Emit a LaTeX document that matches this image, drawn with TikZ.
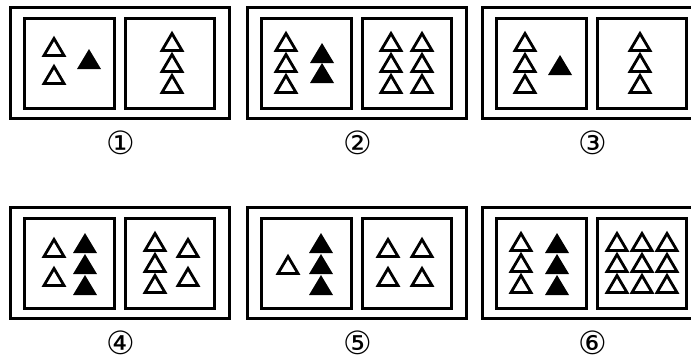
\documentclass[tikz,border=0pt]{standalone}
\usepackage{fontspec}
\newfontfamily\circfont{DejaVu Sans}
\usetikzlibrary{positioning}

\tikzset{
  frame/.style={line width=1.5pt},
  box/.style={line width=1.5pt},
  numlabel/.style={font=\circfont\fontsize{16}{16}\selectfont, inner sep=0pt},
  wtri/.pic={\draw[line width=1.4pt] (0,-8.5) -- (10,8.5) -- (-10,8.5) -- cycle;},
  btri/.pic={\fill (0,-10) -- (12,10) -- (-12,10) -- cycle;}
}

\begin{document}
\begin{tikzpicture}[x=0.5pt, y=-0.5pt]
\useasboundingbox (0,0) rectangle (691,360);

% Frames and inner boxes
\foreach \px/\py/\n/\lab in {10/7/1/①, 247/7/2/②, 482/7/3/③, 10/207/4/④, 247/207/5/⑤, 482/207/6/⑥} {
  \begin{scope}[shift={(\px,\py)}]
    \draw[frame] (0,0) rectangle (219,111);
    \draw[box] (14,11) rectangle (104,101);
    \draw[box] (115,11) rectangle (204,101);
    \node[numlabel] (l\n) at (111,136) {\lab};
  \end{scope}
}

% Panel 1
\pic at (54,47) {wtri};
\pic at (54,75) {wtri};
\pic at (89,59) {btri};
\foreach \y in {42,63,84} \pic at (172,\y) {wtri};

% Panel 2
\foreach \y in {42,63,84} {
    \pic at (286,\y) {wtri};
    \pic at (391,\y) {wtri};
    \pic at (422,\y) {wtri};
}
\pic at (322,53) {btri};
\pic at (322,73) {btri};

% Panel 3
\foreach \y in {42,63,84} {
    \pic at (525,\y) {wtri};
    \pic at (640,\y) {wtri};
}
\pic at (560,65) {btri};

% Panel 4
\pic at (54,248) {wtri};
\pic at (54,277) {wtri};
\foreach \y in {243,264,285} \pic at (85,\y) {btri};
\foreach \y in {242,263,284} \pic at (155,\y) {wtri};
\pic at (188,248) {wtri};
\pic at (188,277) {wtri};

% Panel 5
\pic at (288,265) {wtri};
\foreach \y in {243,264,285} \pic at (321,\y) {btri};
\foreach \x in {388,422} {
    \pic at (\x,248) {wtri};
    \pic at (\x,277) {wtri};
}

% Panel 6
\foreach \y in {242,263,284} {
    \pic at (521,\y) {wtri};
    \foreach \x in {617,642,667} \pic at (\x,\y) {wtri};
}
\foreach \y in {243,264,285} \pic at (557,\y) {btri};

\end{tikzpicture}
\end{document}
